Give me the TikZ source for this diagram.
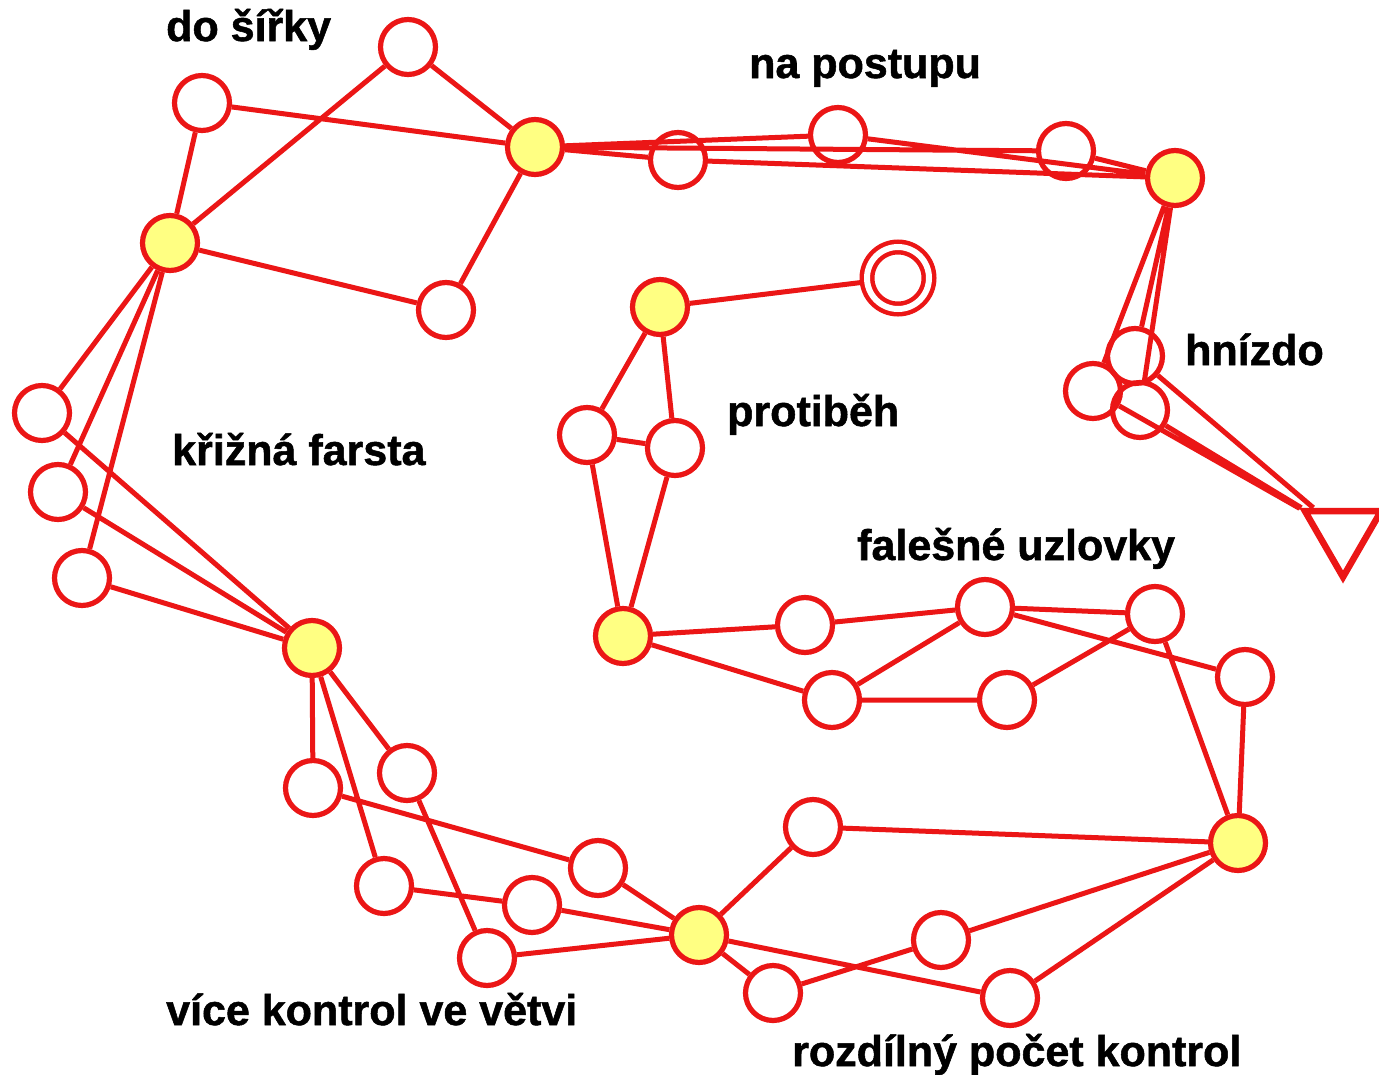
\documentclass[tikz,border=0pt]{standalone}
\usepackage{fontspec}
\setmainfont{Liberation Sans}[BoldFeatures={FakeBold=1.2}]
\usetikzlibrary{shapes.geometric}
\definecolor{rd}{RGB}{235,22,22}
\definecolor{yl}{RGB}{255,255,130}
\begin{document}
\begin{tikzpicture}[x=1pt,y=-1pt,
  ctrl/.style={circle,draw=rd,line width=5.2pt,minimum size=55pt,inner sep=0pt},
  hub/.style={ctrl,fill=yl},
  fin/.style={circle,draw=rd,line width=4.5pt,double=white,double distance=6pt,minimum size=62pt,inner sep=0pt,outer sep=7pt},
  startt/.style={regular polygon,regular polygon sides=3,shape border rotate=180,draw=rd,line width=6.5pt,minimum size=88pt,inner sep=0pt},
  leg/.style={draw=rd,line width=5pt},
  lbl/.style={font=\fontsize{43}{50}\selectfont\bfseries,anchor=base west,inner sep=0pt}]
\useasboundingbox[fill=white] (0,0) rectangle (1379,1074);

% labels
\node[lbl] (t1) at (166,41) {do šířky};
\node[lbl] (t2) at (749,78) {na postupu};
\node[lbl] (t3) at (1185,365) {hnízdo};
\node[lbl] (t4) at (727,426) {protiběh};
\node[lbl] (t5) at (172,465) {křižná farsta};
\node[lbl] (t6) at (857,560) {falešné uzlovky};
\node[lbl] (t7) at (166,1025) {více kontrol ve větvi};
\node[lbl] (t8) at (792,1066) {rozdílný počet kontrol};

% top left
\node[ctrl] (ntop) at (408,47) {};
\node[ctrl] (ntl) at (202,103) {};
\node[hub] (Y1) at (535,147) {};
\node[hub] (Y0) at (170,243) {};
\node[ctrl] (nmid) at (446,310) {};
% top row
\node[ctrl] (c1) at (678,160) {};
\node[ctrl] (c2) at (838,135) {};
\node[ctrl] (c3) at (1066,151) {};
\node[hub] (Y2) at (1175,178) {};
% nest + start
\node[ctrl] (h1) at (1135,356) {};
\node[ctrl] (h2) at (1093,391) {};
\node[ctrl] (h3) at (1140,410) {};
\node[startt] (T) at (1343,533) {};
% finish + protibeh
\node[fin] (F) at (898,278) {};
\node[hub] (Y3) at (660,307) {};
\node[ctrl] (p1) at (587,435) {};
\node[ctrl] (p2) at (675,448) {};
\node[hub] (Y4) at (623,636) {};
% false junctions
\node[ctrl] (f1) at (805,625) {};
\node[ctrl] (f2) at (985,607) {};
\node[ctrl] (f3) at (1155,614) {};
\node[ctrl] (f4) at (1245,677) {};
\node[ctrl] (f5) at (832,700) {};
\node[ctrl] (f6) at (1007,700) {};
\node[hub] (Y5) at (1238,843) {};
% bottom right
\node[ctrl] (b1) at (813,827) {};
\node[hub] (Y6) at (699,935) {};
\node[ctrl] (b2) at (941,940) {};
\node[ctrl] (b3) at (773,993) {};
\node[ctrl] (b4) at (1010,998) {};
% left fork
\node[ctrl] (l1) at (42,413) {};
\node[ctrl] (l2) at (58,492) {};
\node[ctrl] (l3) at (82,578) {};
\node[hub] (Y7) at (312,648) {};
% bottom left
\node[ctrl] (v1) at (313,788) {};
\node[ctrl] (v2) at (407,773) {};
\node[ctrl] (v3) at (384,886) {};
\node[ctrl] (v4) at (532,905) {};
\node[ctrl] (v5) at (598,868) {};
\node[ctrl] (v6) at (487,958) {};

% legs
\draw[leg] (ntl) -- (Y1) (ntl) -- (Y0) (ntop) -- (Y0) (ntop) -- (Y1) (Y0) -- (nmid) (nmid) -- (Y1);
\draw[leg] (Y1) -- (c1) (c1) -- (Y2) (Y1) -- (c2) (c2) -- (Y2) (Y1) -- (c3) (c3) -- (Y2);
\draw[leg] (Y2) -- (h1) (Y2) -- (h2) (Y2) -- (h3) (h1) -- (T) (h2) -- (T) (h3) -- (T);
\draw[leg] (Y3) -- (F) (Y3) -- (p1) (Y3) -- (p2) (p1) -- (p2) (p1) -- (Y4) (p2) -- (Y4);
\draw[leg] (Y4) -- (f1) (f1) -- (f2) (f2) -- (f3) (f2) -- (f4) (Y4) -- (f5) (f5) -- (f2)
  (f5) -- (f6) (f6) -- (f3) (f3) -- (Y5) (f4) -- (Y5);
\draw[leg] (Y6) -- (b1) (b1) -- (Y5) (Y6) -- (b4) (b4) -- (Y5) (Y6) -- (b3) (b3) -- (b2) (b2) -- (Y5);
\draw[leg] (Y0) -- (l1) (Y0) -- (l2) (Y0) -- (l3) (l1) -- (Y7) (l2) -- (Y7) (l3) -- (Y7);
\draw[leg] (Y7) -- (v1) (Y7) -- (v3) (Y7) -- (v2) (v1) -- (v5) (v2) -- (v6) (v3) -- (v4)
  (v4) -- (Y6) (v5) -- (Y6) (v6) -- (Y6);
\end{tikzpicture}
\end{document}
